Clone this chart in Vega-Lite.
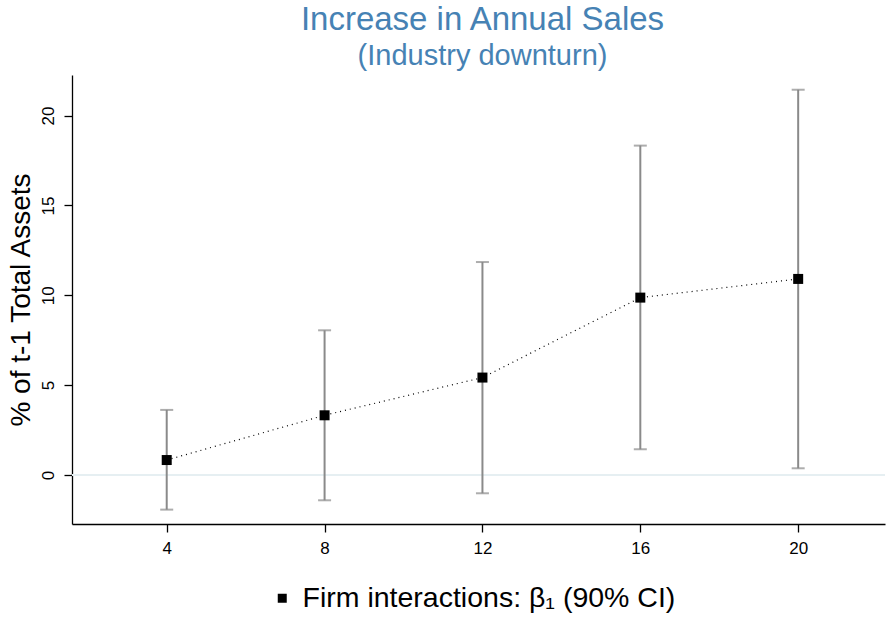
{
  "$schema": "https://vega.github.io/schema/vega-lite/v6.json",
  "autosize": "none",
  "width": 813,
  "height": 449,
  "padding": {"left": 72, "top": 75, "right": 2, "bottom": 95},
  "background": "white",
  "config": {
    "font": "Liberation Sans",
    "view": {"stroke": null},
    "axis": {
      "grid": false,
      "domainColor": "black",
      "domainWidth": 1.3,
      "tickColor": "black",
      "tickWidth": 1.3,
      "tickSize": 8,
      "labelColor": "black",
      "labelFont": "Liberation Sans",
      "labelFontSize": 17,
      "titleFont": "Liberation Sans",
      "titleFontWeight": "normal",
      "titleColor": "black"
    }
  },
  "title": {
    "text": "Increase in Annual Sales",
    "subtitle": "(Industry downturn)",
    "color": "#4682b4",
    "subtitleColor": "#4682b4",
    "font": "Liberation Sans",
    "subtitleFont": "Liberation Sans",
    "fontSize": 33,
    "subtitleFontSize": 29,
    "fontWeight": "normal",
    "anchor": "middle",
    "dx": 4,
    "offset": 4,
    "subtitlePadding": 5
  },
  "data": {
    "values": [
      {"horizon": 4, "beta": 0.83, "lo": -1.93, "hi": 3.62, "series": "Firm interactions: β₁ (90% CI)"},
      {"horizon": 8, "beta": 3.32, "lo": -1.41, "hi": 8.05, "series": "Firm interactions: β₁ (90% CI)"},
      {"horizon": 12, "beta": 5.42, "lo": -1.02, "hi": 11.85, "series": "Firm interactions: β₁ (90% CI)"},
      {"horizon": 16, "beta": 9.87, "lo": 1.43, "hi": 18.33, "series": "Firm interactions: β₁ (90% CI)"},
      {"horizon": 20, "beta": 10.91, "lo": 0.37, "hi": 21.44, "series": "Firm interactions: β₁ (90% CI)"}
    ]
  },
  "encoding": {
    "x": {
      "field": "horizon",
      "type": "quantitative",
      "scale": {"domain": [1.6, 22.2], "nice": false, "zero": false},
      "axis": {"values": [4, 8, 12, 16, 20], "title": null, "labelPadding": 8}
    }
  },
  "layer": [
    {
      "mark": {"type": "rule", "color": "#e6eff2", "strokeWidth": 1.5},
      "encoding": {"x": null, "y": {"datum": 0, "type": "quantitative"}}
    },
    {
      "mark": {"type": "rule", "color": "#8a8a8a", "strokeWidth": 2},
      "encoding": {
        "y": {
          "field": "lo",
          "type": "quantitative",
          "scale": {"domain": [-2.73, 22.26], "nice": false, "zero": false},
          "axis": {
            "values": [0, 5, 10, 15, 20],
            "title": "% of t-1 Total Assets",
            "titleFontSize": 28,
            "titlePadding": 4,
            "labelAngle": -90,
            "labelAlign": "center",
            "labelBaseline": "bottom",
            "labelPadding": 7
          }
        },
        "y2": {"field": "hi"}
      }
    },
    {
      "mark": {"type": "tick", "orient": "horizontal", "color": "#8a8a8a", "size": 13, "thickness": 2},
      "encoding": {"y": {"field": "lo", "type": "quantitative"}}
    },
    {
      "mark": {"type": "tick", "orient": "horizontal", "color": "#8a8a8a", "size": 13, "thickness": 2},
      "encoding": {"y": {"field": "hi", "type": "quantitative"}}
    },
    {
      "mark": {"type": "line", "color": "black", "strokeWidth": 1.2, "strokeDash": [1, 4]},
      "encoding": {"y": {"field": "beta", "type": "quantitative"}}
    },
    {
      "mark": {"type": "square", "filled": true, "opacity": 1, "size": 100},
      "encoding": {
        "y": {"field": "beta", "type": "quantitative"},
        "color": {
          "field": "series",
          "type": "nominal",
          "scale": {"range": ["black"]},
          "legend": {
            "title": null,
            "orient": "none",
            "legendX": 196,
            "legendY": 509,
            "symbolType": "square",
            "symbolSize": 81,
            "symbolFillColor": "black",
            "symbolStrokeWidth": 0,
            "labelFontSize": 28.5,
            "labelFont": "Liberation Sans",
            "labelColor": "black",
            "labelOffset": 6,
            "labelLimit": 600,
            "padding": 0
          }
        }
      }
    }
  ]
}
